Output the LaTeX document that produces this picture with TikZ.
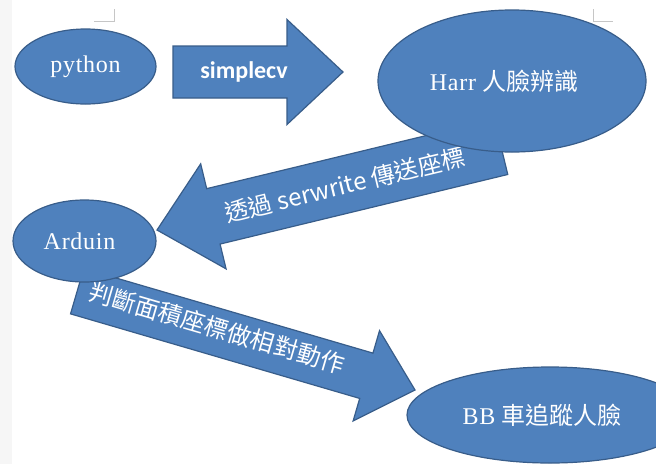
\documentclass[tikz,border=0pt]{standalone}
\usepackage{fontspec}
\setmainfont{Liberation Serif}
\newfontfamily\lat[LetterSpace=3]{Liberation Serif}
\newfontfamily\cjk{Noto Sans CJK TC}
\newfontfamily\carlito{Carlito}
\usetikzlibrary{shapes.geometric}
\definecolor{boxblue}{HTML}{4F81BD}
\definecolor{boxline}{HTML}{385D8A}
\tikzset{
	blob/.style={ellipse, fill=boxblue, draw=boxline, line width=1.2pt, text=white, inner sep=0pt},
	blockarrow/.style={fill=boxblue, draw=boxline, line width=1.2pt, line join=miter},
	lbl/.style={text=white, inner sep=0pt}
}
\begin{document}
\begin{tikzpicture}[x=1pt, y=-1pt, font=\fontsize{24}{28}\selectfont]
	\useasboundingbox (0,0) rectangle (656,464);
	\fill[white] (0,0) rectangle (656,464);
	\fill[gray!7] (0,0) rectangle (12,464);
	% page corner marks
	\draw[gray!45, line width=0.6pt] (94,21) -- (114,21) -- (114,9);
	\draw[gray!45, line width=0.6pt] (593,9) -- (593,21) -- (613,21);
	% block arrows: tip x/y, angle, length, head length, head half, body half
	\foreach \tx/\ty/\ang/\len/\hl/\hw/\bw in {343/72/180/170/56/52.5/26, 157/230/13.6/354/58/54/28.5, 415/390/163.7/352/50.7/47/23.6}{
		\begin{scope}[shift={(\tx,\ty)}, rotate=\ang]
			\filldraw[blockarrow] (0,0) -- (\hl,-\hw) -- (\hl,-\bw) -- (\len,-\bw) -- (\len,\bw) -- (\hl,\bw) -- (\hl,\hw) -- cycle;
		\end{scope}
	}
	\node[lbl] (cvlbl) at (244,72) {\carlito\bfseries simplecv};
	\node[lbl, rotate=13.6] (sendlbl) at (345,185) {\cjk 透過 serwrite 傳送座標};
	\node[lbl, rotate=-16.3] (movelbl) at (217,328) {\cjk 判斷面積座標做相對動作};
	% ellipses
	\node[blob, minimum width=141, minimum height=75] (python) at (85.5,66.5) {\lat python};
	\node[blob, minimum width=268, minimum height=142] (harr) at (512,81) {\hspace*{-16pt}{\lat Harr} \cjk 人臉辨識};
	\node[blob, minimum width=143, minimum height=82] (arduin) at (84.5,241) {\hspace*{-10pt}\lat Arduin};
	\node[blob, minimum width=286, minimum height=96] (bbcar) at (550,415) {\hspace*{-16pt}{\lat BB} \cjk 車追蹤人臉};
\end{tikzpicture}
\end{document}
